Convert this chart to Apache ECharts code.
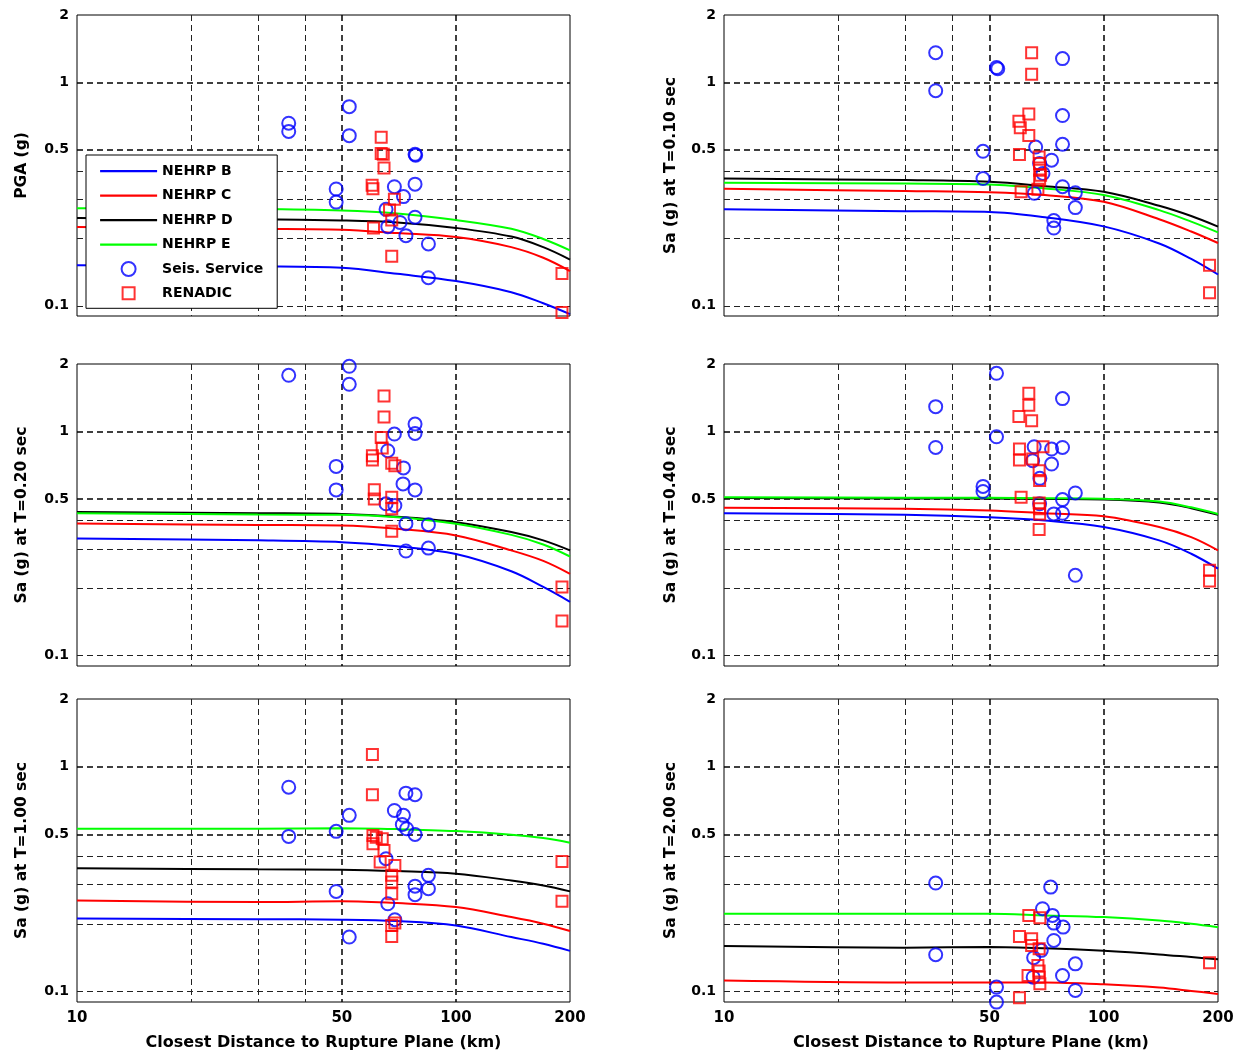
<!DOCTYPE html>
<html>
<head>
<meta charset="utf-8">
<script src="https://cdn.jsdelivr.net/npm/echarts@6/dist/echarts.min.js"></script>
<style>
  html, body { margin: 0; padding: 0; background: #fff; }
  #chart { width: 1244px; height: 1059px; }
</style>
</head>
<body>
<div id="chart"></div>
<script>
// Distances (km) at which the NEHRP site-class prediction curves are tabulated
const distances = [10, 30, 50, 70, 100, 140, 170, 200];

// PGA
const pgaB = [0.152, 0.150, 0.148, 0.139, 0.129, 0.115, 0.1026, 0.0917];
const pgaC = [0.225, 0.221, 0.219, 0.2115, 0.203, 0.183, 0.164, 0.143];
const pgaD = [0.247, 0.244, 0.241, 0.236, 0.223, 0.204, 0.183, 0.161];
const pgaE = [0.273, 0.271, 0.267, 0.259, 0.242, 0.221, 0.199, 0.177];
const pgaSeis = [[36.2,0.656],[36.2,0.603],[52.3,0.778],[52.3,0.577],[48.3,0.333],[48.3,0.291],[78,0.476],[78.3,0.472],[78,0.350],[68.8,0.341],[72.7,0.308],[65.4,0.270],[66.1,0.226],[71.2,0.236],[73.8,0.206],[78,0.249],[84.6,0.189],[84.6,0.1335]];
const pgaRenadic = [[63.5,0.568],[63.5,0.48],[64.3,0.476],[64.6,0.414],[60.1,0.346],[60.4,0.334],[68.8,0.300],[66.8,0.268],[67.7,0.242],[60.6,0.223],[67.7,0.1665],[190.5,0.1395],[190.5,0.0933]];

// Sa at T = 0.10 s
const sa010B = [0.270, 0.265, 0.263, 0.249, 0.2266, 0.190, 0.162, 0.138];
const sa010C = [0.334, 0.326, 0.322, 0.313, 0.292, 0.244, 0.215, 0.191];
const sa010D = [0.371, 0.365, 0.359, 0.343, 0.3235, 0.280, 0.252, 0.226];
const sa010E = [0.355, 0.352, 0.349, 0.335, 0.313, 0.268, 0.238, 0.213];
const sa010Seis = [[36.1,1.356],[36.1,0.917],[52.2,1.164],[52.6,1.15],[48.1,0.491],[48.1,0.371],[77.9,1.276],[77.9,0.710],[77.9,0.528],[66.2,0.513],[72.9,0.448],[69.2,0.391],[77.9,0.341],[84.2,0.3206],[84.2,0.275],[73.9,0.2405],[73.9,0.2227],[65.6,0.3187],[67.8,0.433]];
const sa010Renadic = [[64.6,1.356],[64.6,1.087],[63.5,0.722],[59.8,0.669],[60.3,0.626],[63.5,0.578],[60.0,0.475],[67.6,0.463],[67.8,0.433],[67.8,0.404],[68.2,0.384],[67.8,0.365],[67.1,0.332],[60.6,0.3235],[190,0.152],[190,0.1145]];

// Sa at T = 0.20 s
const sa020B = [0.3335, 0.327, 0.321, 0.3075, 0.284, 0.238, 0.2026, 0.174];
const sa020C = [0.389, 0.383, 0.381, 0.368, 0.344, 0.295, 0.265, 0.232];
const sa020D = [0.437, 0.432, 0.429, 0.417, 0.394, 0.356, 0.327, 0.295];
const sa020E = [0.432, 0.426, 0.425, 0.415, 0.388, 0.346, 0.3135, 0.277];
const sa020Seis = [[36.2,1.781],[52.3,1.953],[52.3,1.624],[48.3,0.699],[48.3,0.549],[78,1.079],[78,0.980],[68.8,0.974],[66.1,0.821],[72.7,0.688],[72.5,0.584],[78,0.549],[65.4,0.476],[69.0,0.468],[73.8,0.388],[84.6,0.384],[73.8,0.293],[84.6,0.302]];
const sa020Renadic = [[64.6,1.441],[64.6,1.162],[63.5,0.940],[63.9,0.844],[60.2,0.78],[60.2,0.746],[67.7,0.721],[69,0.704],[60.9,0.55],[60.9,0.5005],[67.7,0.509],[67.7,0.452],[67.7,0.359],[190.5,0.2025],[190.5,0.143]];

// Sa at T = 0.40 s
const sa040B = [0.432, 0.425, 0.415, 0.401, 0.375, 0.327, 0.285, 0.2445];
const sa040C = [0.4565, 0.452, 0.444, 0.432, 0.419, 0.375, 0.338, 0.295];
const sa040D = [0.505, 0.503, 0.502, 0.500, 0.497, 0.482, 0.455, 0.425];
const sa040E = [0.509, 0.507, 0.506, 0.504, 0.501, 0.487, 0.459, 0.429];
const sa040Seis = [[36.1,1.291],[36.1,0.849],[52.2,1.818],[52.2,0.947],[48.1,0.569],[48.1,0.54],[77.9,1.402],[77.9,0.849],[65.6,0.855],[72.9,0.835],[72.9,0.716],[65,0.741],[67.9,0.618],[84.2,0.532],[77.9,0.497],[67.8,0.476],[73.9,0.429],[77.9,0.432],[84.2,0.2284]];
const sa040Renadic = [[63.5,1.481],[63.5,1.31],[59.8,1.166],[64.6,1.116],[60,0.835],[60,0.746],[69.2,0.855],[65,0.754],[67.6,0.669],[67.8,0.604],[60.6,0.509],[67.6,0.48],[67.8,0.452],[67.8,0.429],[67.6,0.3657],[190,0.2404],[190,0.2155]];

// Sa at T = 1.00 s
const sa100B = [0.2118, 0.210, 0.209, 0.206, 0.1968, 0.175, 0.1634, 0.1519];
const sa100C = [0.2545, 0.2503, 0.2524, 0.2476, 0.2378, 0.2146, 0.2005, 0.186];
const sa100D = [0.354, 0.350, 0.3487, 0.3436, 0.3345, 0.312, 0.2966, 0.2793];
const sa100E = [0.530, 0.530, 0.533, 0.528, 0.5175, 0.499, 0.482, 0.4595];
const sa100Seis = [[36.2,0.811],[36.2,0.49],[52.3,0.608],[48.3,0.516],[48.3,0.279],[52.3,0.175],[73.8,0.763],[78,0.751],[68.8,0.639],[72.7,0.608],[72.2,0.554],[74.1,0.530],[78,0.50],[65.4,0.39],[84.6,0.329],[78,0.2946],[84.6,0.287],[78,0.27],[66.1,0.246],[69,0.209]];
const sa100Renadic = [[60.2,1.134],[60.2,0.751],[60.4,0.495],[61.6,0.486],[60.4,0.455],[63.9,0.479],[64.6,0.4246],[63.1,0.3767],[69,0.364],[67.7,0.329],[67.7,0.307],[67.7,0.2726],[69,0.2018],[67.7,0.197],[67.7,0.176],[190.5,0.379],[190.5,0.2527]];

// Sa at T = 2.00 s (site class B falls below the plotted range)
const sa200B = [];
const sa200C = [0.1122, 0.110, 0.110, 0.110, 0.1079, 0.1043, 0.1008, 0.0977];
const sa200D = [0.1595, 0.157, 0.158, 0.156, 0.1519, 0.1465, 0.1425, 0.1393];
const sa200E = [0.222, 0.222, 0.222, 0.2184, 0.2146, 0.2074, 0.2005, 0.1936];
const sa200Seis = [[36.1,0.304],[36.1,0.146],[72.5,0.2917],[69,0.2338],[73.3,0.2183],[73.9,0.2018],[78.2,0.1937],[73.9,0.169],[68.5,0.1527],[65.4,0.1416],[84.2,0.133],[77.9,0.118],[65.2,0.116],[84.2,0.1013],[52.2,0.1048],[52.2,0.0899]];
const sa200Renadic = [[63.5,0.2183],[67.9,0.2133],[60,0.176],[64.6,0.172],[64.6,0.1606],[67.6,0.1554],[67.1,0.1309],[67.6,0.1236],[63.2,0.118],[67.6,0.116],[67.9,0.1085],[60,0.094],[190,0.1345]];

// Axis ticks and grid lines
const xTickLabels = [10, 50, 100, 200];
const yTickLabels = [0.1, 0.5, 1, 2];
const xMajorGrid = [50, 100];
const xMinorGrid = [20, 30, 40];
const yMajorGrid = [0.5, 1];
const yMinorGrid = [0.1, 0.2, 0.3, 0.4];

const seriesNames = ['NEHRP B', 'NEHRP C', 'NEHRP D', 'NEHRP E', 'Seis. Service', 'RENADIC'];
const lineColors = ['#0000ff', '#ff0000', '#000000', '#00ff00'];
const seisColor = '#0000ff';
const renadicColor = '#ff0000';
const xTitle = 'Closest Distance to Rupture Plane (km)';

const panels = [
  { title: 'PGA (g)',              curves: [pgaB, pgaC, pgaD, pgaE],           seis: pgaSeis,   renadic: pgaRenadic },
  { title: 'Sa (g) at T=0.10 sec', curves: [sa010B, sa010C, sa010D, sa010E],   seis: sa010Seis, renadic: sa010Renadic },
  { title: 'Sa (g) at T=0.20 sec', curves: [sa020B, sa020C, sa020D, sa020E],   seis: sa020Seis, renadic: sa020Renadic },
  { title: 'Sa (g) at T=0.40 sec', curves: [sa040B, sa040C, sa040D, sa040E],   seis: sa040Seis, renadic: sa040Renadic },
  { title: 'Sa (g) at T=1.00 sec', curves: [sa100B, sa100C, sa100D, sa100E],   seis: sa100Seis, renadic: sa100Renadic },
  { title: 'Sa (g) at T=2.00 sec', curves: [sa200B, sa200C, sa200D, sa200E],   seis: sa200Seis, renadic: sa200Renadic }
];

// Panel placement
const colLeft = [77, 724];
const colWidth = [493, 494];
const rowTop = [15, 364, 699];
const rowHeight = [301, 302, 303];

const FONT = 'DejaVu Sans';
const dash = [6, 4];
const fmt = v => String(v);

// Legend glyphs: a plain line segment and a square, both inside a 57x14 box
const LINE_ICON = 'path://M0,0L0,0M0,14L0,14M0,7L57,7';
const SQUARE_ICON = 'path://M0,0L0,0M14,14L14,14M1,1L13,1L13,13L1,13Z';

const grids = [], xAxes = [], yAxes = [], series = [];

panels.forEach((p, i) => {
  const r = Math.floor(i / 2), c = i % 2;
  grids.push({
    left: colLeft[c], top: rowTop[r], width: colWidth[c], height: rowHeight[r],
    show: true, borderColor: '#000', borderWidth: 1, backgroundColor: 'rgba(0,0,0,0)'
  });

  const bottomRow = r === 2;
  // Labelled x axis with the heavier grid lines
  xAxes.push({
    type: 'log', logBase: 10, gridIndex: i, min: 10, max: 200, position: 'bottom',
    axisLine: { show: false },
    axisTick: { show: false, customValues: xMajorGrid },
    axisLabel: {
      show: bottomRow, customValues: xTickLabels, formatter: fmt, margin: 9,
      color: '#000', fontFamily: FONT, fontWeight: 'bold', fontSize: 15
    },
    splitLine: { show: true, lineStyle: { color: '#000', width: 1.5, type: dash } },
    name: bottomRow ? xTitle : '', nameLocation: 'middle', nameGap: 33,
    nameTextStyle: { color: '#000', fontFamily: FONT, fontWeight: 'bold', fontSize: 16 }
  });
  // Companion x axis carrying the lighter intermediate grid lines
  xAxes.push({
    type: 'log', logBase: 10, gridIndex: i, min: 10, max: 200, position: 'top',
    axisLine: { show: false },
    axisTick: { show: false, customValues: xMinorGrid },
    axisLabel: { show: false },
    splitLine: { show: true, lineStyle: { color: '#222', width: 1, type: dash } }
  });

  yAxes.push({
    type: 'log', logBase: 10, gridIndex: i, min: 0.09, max: 2, position: 'left',
    axisLine: { show: false },
    axisTick: { show: false, customValues: yMajorGrid },
    axisLabel: {
      customValues: yTickLabels, formatter: fmt, margin: 8,
      color: '#000', fontFamily: FONT, fontWeight: 'bold', fontSize: 14
    },
    splitLine: { show: true, lineStyle: { color: '#000', width: 1.5, type: dash } },
    name: p.title, nameLocation: 'middle', nameRotate: 90, nameGap: c === 0 ? 47 : 45,
    nameTextStyle: { color: '#000', fontFamily: FONT, fontWeight: 'bold', fontSize: 15.5 }
  });
  yAxes.push({
    type: 'log', logBase: 10, gridIndex: i, min: 0.09, max: 2, position: 'right',
    axisLine: { show: false },
    axisTick: { show: false, customValues: yMinorGrid },
    axisLabel: { show: false },
    splitLine: { show: true, lineStyle: { color: '#222', width: 1, type: dash } }
  });

  p.curves.forEach((vals, k) => {
    if (!vals.length) return;
    series.push({
      name: seriesNames[k], type: 'line', xAxisIndex: 2 * i, yAxisIndex: 2 * i,
      data: distances.map((d, j) => [d, vals[j]]),
      symbol: 'none', smooth: 0.35, clip: true,
      lineStyle: { color: lineColors[k], width: 2 },
      itemStyle: { color: lineColors[k] },
      z: 3
    });
  });
  series.push({
    name: 'Seis. Service', type: 'scatter', xAxisIndex: 2 * i, yAxisIndex: 2 * i,
    data: p.seis, symbol: 'circle', symbolSize: 13, clip: false,
    itemStyle: { color: 'rgba(0,0,0,0)', borderColor: seisColor, borderWidth: 2 },
    z: 4
  });
  series.push({
    name: 'RENADIC', type: 'scatter', xAxisIndex: 2 * i, yAxisIndex: 2 * i,
    data: p.renadic, symbol: 'rect', symbolSize: 11, clip: false,
    itemStyle: { color: 'rgba(0,0,0,0)', borderColor: renadicColor, borderWidth: 2 },
    z: 4
  });
});

const legendData = seriesNames.slice(0, 4).map((name, k) => ({
  name, icon: LINE_ICON,
  itemStyle: { color: lineColors[k], borderColor: lineColors[k], borderWidth: 2.2 }
})).concat([
  { name: 'Seis. Service', icon: 'circle',
    itemStyle: { color: 'rgba(0,0,0,0)', borderColor: seisColor, borderWidth: 2 } },
  { name: 'RENADIC', icon: SQUARE_ICON,
    itemStyle: { color: 'rgba(0,0,0,0)', borderColor: renadicColor, borderWidth: 2 } }
]);

const chart = echarts.init(document.getElementById('chart'), null, { renderer: 'canvas' });
chart.setOption({
  animation: false,
  backgroundColor: '#fff',
  grid: grids,
  xAxis: xAxes,
  yAxis: yAxes,
  legend: {
    left: 86, top: 155, orient: 'vertical',
    data: legendData,
    selectedMode: false,
    itemWidth: 57, itemHeight: 14, itemGap: 8.3,
    padding: [8, 14, 7, 13],
    backgroundColor: '#fff', borderColor: '#000', borderWidth: 1,
    textStyle: { color: '#000', fontFamily: FONT, fontWeight: 'bold', fontSize: 14 },
    z: 10
  },
  series: series
});
</script>
</body>
</html>
